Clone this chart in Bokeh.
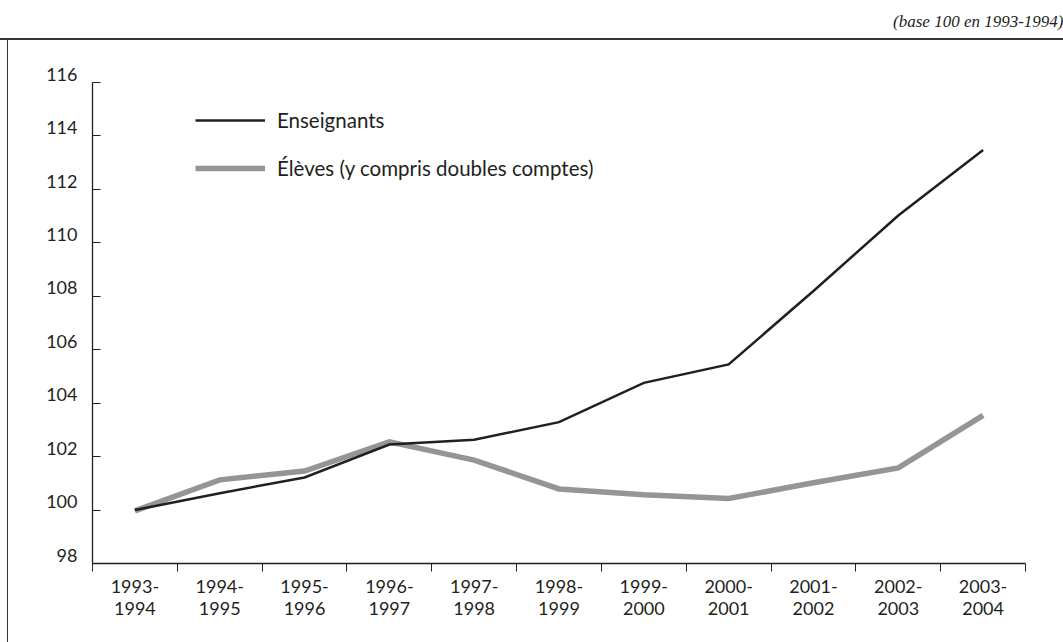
from bokeh.plotting import figure
from bokeh.models import FixedTicker, Legend, LegendItem, Range1d, Title, InlineStyleSheet
from bokeh.embed import file_html
from bokeh.resources import INLINE

years = ["1993-\n1994", "1994-\n1995", "1995-\n1996", "1996-\n1997", "1997-\n1998",
         "1998-\n1999", "1999-\n2000", "2000-\n2001", "2001-\n2002", "2002-\n2003",
         "2003-\n2004"]
enseignants = [100.0, 100.63, 101.22, 102.45, 102.63, 103.29, 104.76, 105.45, 108.2, 111.02, 113.47]
eleves = [99.97, 101.13, 101.46, 102.55, 101.87, 100.79, 100.57, 100.43, 101.02, 101.58, 103.54]
y_ticks = [98, 100, 102, 104, 106, 108, 110, 112, 114, 116]

W, H = 1063, 642
FONT = "Lato"
TXT = "#231f20"

xs = [i + 0.5 for i in range(len(years))]

p = figure(width=W, height=H, output_backend="svg", toolbar_location=None,
           x_range=Range1d(0, len(years)), y_range=Range1d(98, 116),
           min_border_left=92, min_border_right=38, min_border_top=82, min_border_bottom=79)
p.xgrid.visible = False
p.ygrid.visible = False
p.outline_line_color = None
p.background_fill_color = "white"
p.border_fill_alpha = 0
# top rule of the surrounding box
p.styles = {
    "background-color": "white",
    "background-image": "linear-gradient(#333333,#333333)",
    "background-size": "100% 2px",
    "background-position": "0px 38px",
    "background-repeat": "no-repeat",
}
# left rule of the surrounding box
p.stylesheets = [InlineStyleSheet(css=(
    ":host::before { content: ''; position: absolute; left: 7px; top: 38px; "
    "bottom: 0px; width: 0px; border-left: 1.5px solid #333333; pointer-events: none; }"
))]

# title placed at the top of the canvas, a spacer between it and the frame
p.add_layout(Title(text=" ", text_font_size="1px", standoff=49), "above")
p.add_layout(Title(text="(base 100 en 1993-1994)", align="right", offset=-38, standoff=0,
                   text_font="Liberation Serif", text_font_style="italic",
                   text_font_size="17px", text_color=TXT), "above")

r_el = p.line(xs, eleves, line_color="#939598", line_width=5.5, line_join="miter")
r_en = p.line(xs, enseignants, line_color=TXT, line_width=2.5, line_join="miter")

# x axis
xa = p.xaxis[0]
xa.ticker = FixedTicker(ticks=xs, minor_ticks=list(range(len(years) + 1)))
xa.major_label_overrides = {x: lab for x, lab in zip(xs, years)}
xa.major_tick_out = 0
xa.major_tick_in = 0
xa.minor_tick_out = 8
xa.minor_tick_in = 0
xa.minor_tick_line_color = TXT
xa.axis_line_color = TXT
xa.axis_line_width = 1.3
xa.major_label_standoff = 3
xa.major_label_text_line_height = 1.0
xa.major_label_text_font = FONT
xa.major_label_text_font_size = "18px"
xa.major_label_text_color = TXT
xa.major_label_orientation = "horizontal"

# y axis (labels raised above their ticks via an empty second line)
ya = p.yaxis[0]
ya.ticker = FixedTicker(ticks=y_ticks, minor_ticks=[])
ya.major_tick_in = 8
ya.major_tick_out = 0
ya.major_tick_line_color = TXT
ya.axis_line_color = TXT
ya.axis_line_width = 1.3
ya.major_label_standoff = 15
ya.major_label_overrides = {t: f"{t}\n " for t in y_ticks}
ya.major_label_text_line_height = 0.8
ya.major_label_text_font = FONT
ya.major_label_text_font_size = "18px"
ya.major_label_text_color = TXT

legend = Legend(items=[LegendItem(label="Enseignants", renderers=[r_en]),
                       LegendItem(label="Élèves (y compris doubles comptes)", renderers=[r_el])],
                location=(103, 383), orientation="vertical",
                glyph_width=70, glyph_height=20, spacing=24, label_standoff=12,
                padding=0, margin=0, border_line_color=None, background_fill_alpha=0,
                label_text_font=FONT, label_text_font_size="20.5px", label_text_color=TXT)
p.add_layout(legend)

open("out.html", "w").write(file_html(p, INLINE))
